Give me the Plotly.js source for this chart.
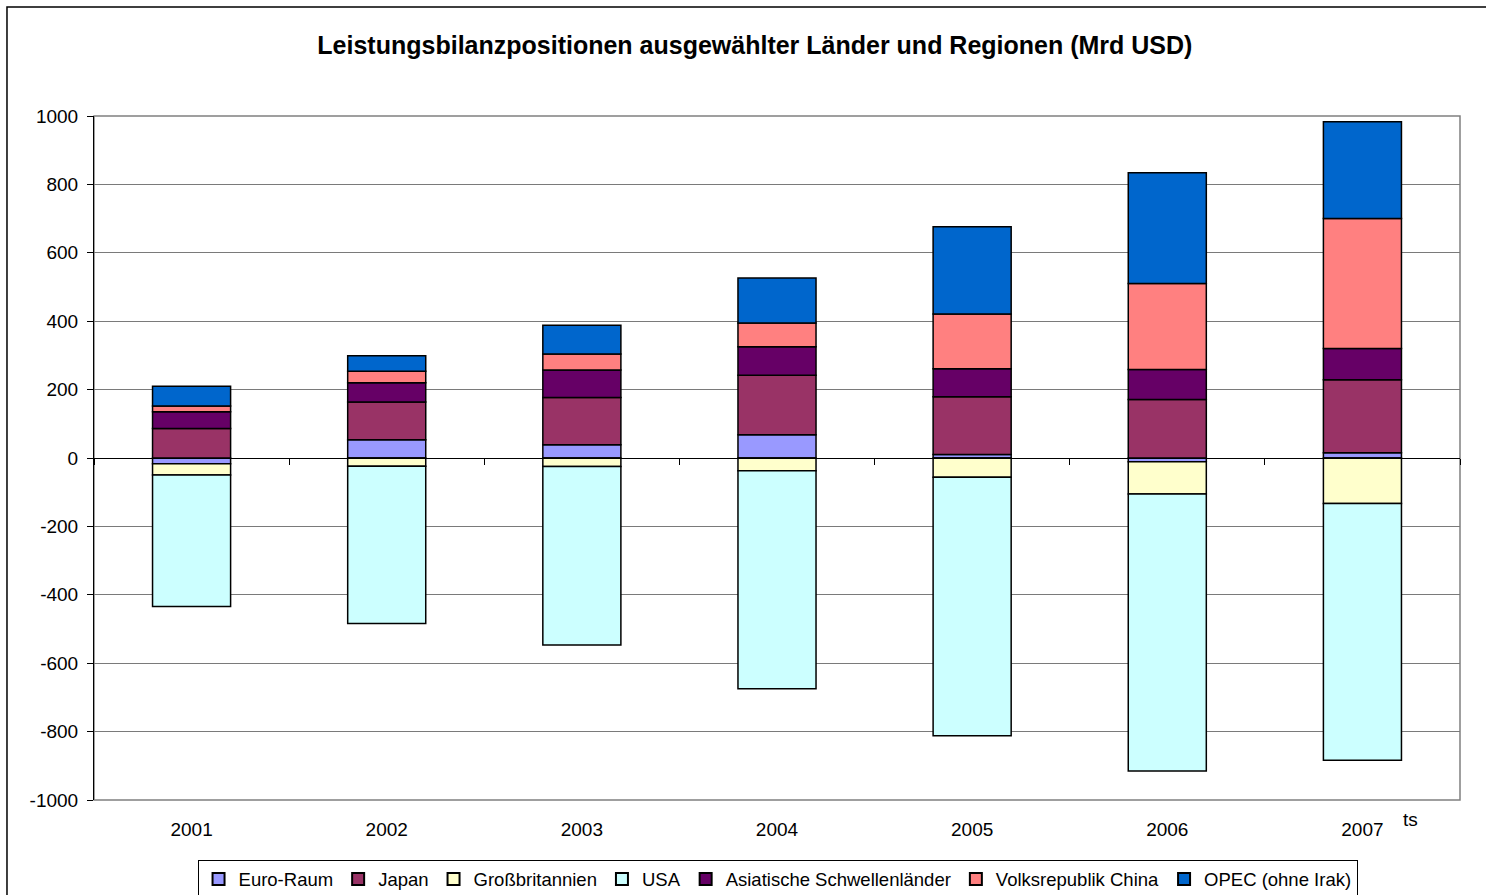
<!DOCTYPE html>
<html>
<head>
<meta charset="utf-8">
<script src="https://cdn.plot.ly/plotly-3.0.1.min.js"></script>
<style>
html,body{margin:0;padding:0;background:#fff;}
#chart{width:1486px;height:895px;}
</style>
</head>
<body>
<div id="chart"></div>
<script>
const years = ['2001','2002','2003','2004','2005','2006','2007'];
const euroRaum = [-17, 53, 39, 68, 10, -11, 15];
const japan = [86, 111, 138, 174, 169, 171, 214];
const grossbritannien = [-33, -24, -25, -37, -56, -94, -133];
const usa = [-384, -460, -522, -638, -756, -810, -751];
const asiatische = [49, 56, 80, 83, 82, 88, 91];
const china = [17, 34, 47, 70, 160, 251, 380];
const opec = [58, 45, 84, 131, 255, 324, 283];
const yTicks = [-1000, -800, -600, -400, -200, 0, 200, 400, 600, 800, 1000];

const seriesNames = ['Euro-Raum','Japan','Großbritannien','USA','Asiatische Schwellenländer','Volksrepublik China','OPEC (ohne Irak)'];
const seriesData = [euroRaum, japan, grossbritannien, usa, asiatische, china, opec];
const seriesColors = ['#9999FF','#993366','#FFFFCC','#CCFFFF','#660066','#FF8080','#0066CC'];

const FONT = 'Liberation Sans, Arial, sans-serif';

const traces = seriesNames.map((n, i) => ({
  type: 'bar',
  name: n,
  x: years,
  y: seriesData[i],
  marker: {color: seriesColors[i], line: {color: '#000', width: 1.5}},
  hoverinfo: 'x+y+name'
}));

// empty helper trace so the zero-line category axis (x2) is drawn
traces.push({type: 'scatter', x: [], y: [], xaxis: 'x2', yaxis: 'y', showlegend: false, hoverinfo: 'skip'});

const boundaries = [];
for (let i = 0; i <= years.length; i++) boundaries.push(i - 0.5);

const layout = {
  width: 1486, height: 895,
  margin: {l: 94, r: 26, t: 116, b: 95, autoexpand: false},
  paper_bgcolor: '#fff', plot_bgcolor: '#fff',
  barmode: 'relative',
  bargap: 0.6,
  font: {family: FONT, size: 19, color: '#000'},
  title: {
    text: '<b>Leistungsbilanzpositionen ausgewählter Länder und Regionen (Mrd USD)</b>',
    font: {family: FONT, size: 25, color: '#000'},
    x: 0.508, xanchor: 'center', y: 0.95, yanchor: 'middle'
  },
  xaxis: {
    type: 'category', categoryarray: years, categoryorder: 'array',
    range: [-0.5, years.length - 0.5],
    showgrid: false, zeroline: false, showline: false,
    ticks: 'outside', ticklen: 12, tickcolor: 'rgba(0,0,0,0)',
    tickfont: {family: FONT, size: 19, color: '#000'},
    fixedrange: true
  },
  xaxis2: {
    overlaying: 'x', anchor: 'free', position: 0.5, side: 'bottom',
    type: 'linear',
    range: [-0.5, years.length - 0.5],
    tickmode: 'array', tickvals: boundaries,
    showticklabels: false, showgrid: false, zeroline: false,
    showline: true, linecolor: '#000', linewidth: 1,
    ticks: 'outside', ticklen: 6, tickcolor: '#000', tickwidth: 1,
    fixedrange: true
  },
  yaxis: {
    range: [-1000, 1000],
    tickmode: 'array', tickvals: yTicks, ticktext: yTicks.map(v => String(v)),
    showgrid: true, gridcolor: '#7a7a7a', gridwidth: 1,
    zeroline: true, zerolinecolor: '#000', zerolinewidth: 1,
    showline: true, linecolor: '#000', linewidth: 1,
    ticks: 'outside', ticklen: 6, tickcolor: '#000',
    ticklabelstandoff: 5,
    tickfont: {family: FONT, size: 19, color: '#000'},
    fixedrange: true
  },
  legend: {
    orientation: 'h', x: 0.5004, xanchor: 'center', y: -0.087, yanchor: 'top',
    bordercolor: '#000', borderwidth: 1, bgcolor: '#fff',
    font: {family: FONT, size: 18.5, color: '#000'},
    itemsizing: 'constant', tracegroupgap: 0, itemwidth: 30,
    traceorder: 'normal'
  },
  shapes: [
    {type: 'rect', xref: 'paper', yref: 'paper', x0: 0, x1: 1, y0: 0, y1: 1,
     line: {color: '#808080', width: 1.5}, layer: 'below'},
    {type: 'rect', xref: 'paper', yref: 'paper', x0: -0.0637, x1: 1.05, y0: -0.2, y1: 1.1594,
     line: {color: '#000', width: 1.5}, layer: 'below'}
  ],
  annotations: [
    {text: 'ts', xref: 'paper', yref: 'paper', x: 0.9705, y: -0.0278, yanchor: 'middle',
     showarrow: false, font: {family: FONT, size: 19, color: '#000'}}
  ],
  showlegend: true
};

Plotly.newPlot('chart', traces, layout, {displayModeBar: false, staticPlot: true});
</script>
</body>
</html>
